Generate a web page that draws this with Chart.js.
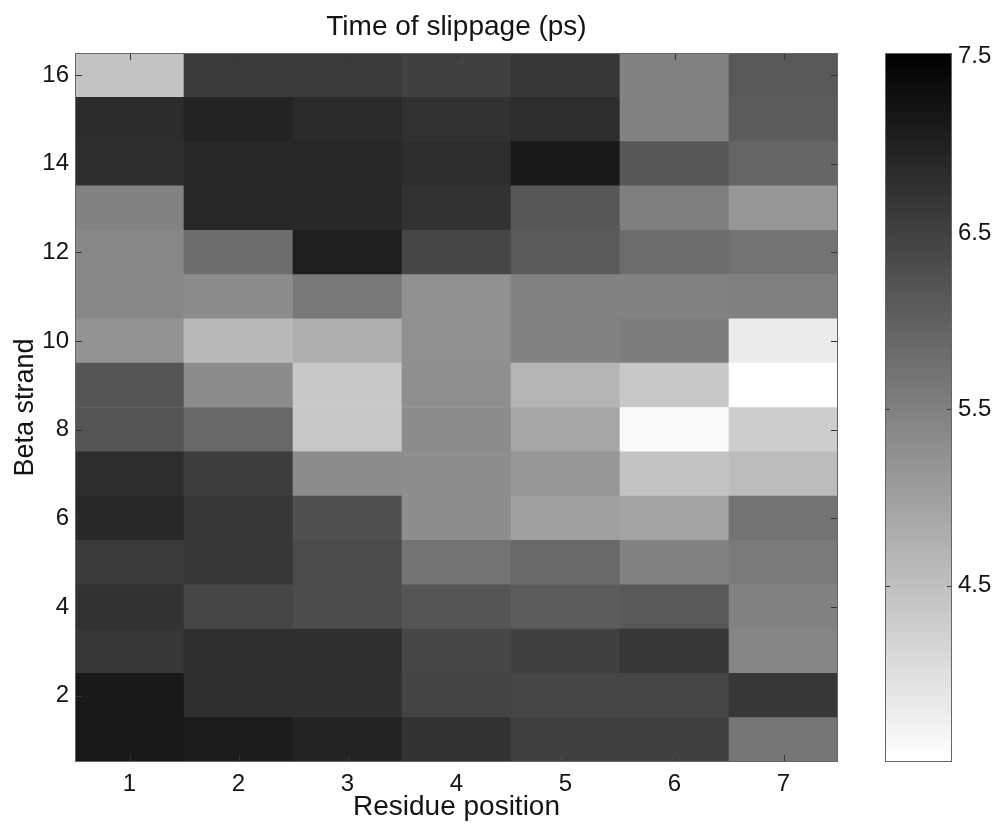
<!DOCTYPE html>
<html>
<head>
<meta charset="utf-8">
<script src="https://cdn.jsdelivr.net/npm/chart.js@4.4.1/dist/chart.umd.min.js"></script>
<style>
  html, body { margin: 0; padding: 0; background: #fff; }
  #wrap { position: relative; width: 997px; height: 829px; overflow: hidden; }
  #main { position: absolute; left: 0; top: 0; }
  #cbar { position: absolute; left: 860px; top: 0; }
</style>
</head>
<body>
<div id="wrap">
  <canvas id="main" width="860" height="829"></canvas>
  <canvas id="cbar" width="137" height="829"></canvas>
</div>
<script>
// ---- data (values in ps), each array runs strand 1 -> 16 ----
const residuePositions = ['1', '2', '3', '4', '5', '6', '7'];
const strands = [1, 2, 3, 4, 5, 6, 7, 8, 9, 10, 11, 12, 13, 14, 15, 16];
const strandTicks = [2, 4, 6, 8, 10, 12, 14, 16];
const colorbarTicks = [4.5, 5.5, 6.5, 7.5];
const colorMin = 3.5;
const colorMax = 7.52;

const res1 = [7.13, 7.13, 6.65, 6.73, 6.61, 6.89, 6.81, 6.18, 6.18, 5.20, 5.39, 5.39, 5.47, 6.80, 6.82, 4.45];
const res2 = [7.10, 6.78, 6.78, 6.42, 6.65, 6.65, 6.57, 5.90, 5.31, 4.60, 5.31, 5.80, 6.89, 6.89, 6.97, 6.61];
const res3 = [6.97, 6.78, 6.78, 6.34, 6.34, 6.26, 5.31, 4.37, 4.37, 4.76, 5.63, 7.05, 6.89, 6.89, 6.86, 6.61];
const res4 = [6.73, 6.45, 6.42, 6.18, 5.71, 5.28, 5.28, 5.31, 5.27, 5.23, 5.23, 6.42, 6.73, 6.81, 6.73, 6.50];
const res5 = [6.50, 6.42, 6.50, 6.07, 5.86, 5.00, 5.16, 4.92, 4.68, 5.47, 5.47, 6.10, 6.15, 7.13, 6.81, 6.65];
const res6 = [6.50, 6.42, 6.65, 6.13, 5.47, 4.95, 4.45, 3.58, 4.37, 5.55, 5.47, 5.79, 5.52, 6.15, 5.47, 5.47];
const res7 = [5.66, 6.65, 5.42, 5.47, 5.60, 5.71, 4.56, 4.29, 3.50, 3.82, 5.50, 5.71, 5.16, 5.91, 6.07, 6.13];
const residues = [res1, res2, res3, res4, res5, res6, res7];

const FONT = '"Liberation Sans", Arial, Helvetica, sans-serif';
const TEXT = '#141414';

function grayFor(v) {
  let t = (colorMax - v) / (colorMax - colorMin);
  t = Math.max(0, Math.min(1, t));
  const g = Math.round(255 * t);
  return 'rgb(' + g + ',' + g + ',' + g + ')';
}

const framePlugin = {
  id: 'frameTicks',
  afterDatasetsDraw(chart) {
    const { ctx, chartArea: a, scales } = chart;
    const isMain = chart.canvas.id === 'main';
    ctx.save();
    ctx.strokeStyle = '#333';
    ctx.lineWidth = 1;
    const tl = isMain ? 7 : 5;
    ctx.beginPath();
    if (isMain) {
      residuePositions.forEach((_, i) => {
        const px = Math.round(scales.x.getPixelForTick(i)) + 0.5;
        ctx.moveTo(px, a.bottom); ctx.lineTo(px, a.bottom - tl);
        ctx.moveTo(px, a.top); ctx.lineTo(px, a.top + tl);
      });
    }
    const ticks = isMain ? strandTicks : colorbarTicks.slice(0, 3);
    ticks.forEach(v => {
      const py = Math.round(scales.y.getPixelForValue(v)) + 0.5;
      ctx.moveTo(a.left, py); ctx.lineTo(a.left + tl, py);
      ctx.moveTo(a.right, py); ctx.lineTo(a.right - tl, py);
    });
    ctx.stroke();
    ctx.strokeStyle = '#666';
    ctx.strokeRect(Math.round(a.left) + 0.5, Math.round(a.top) + 0.5,
                   Math.round(a.right - a.left) - 1, Math.round(a.bottom - a.top) - 1);
    ctx.restore();
  }
};

new Chart(document.getElementById('main'), {
  type: 'bar',
  data: {
    labels: residuePositions,
    datasets: strands.map((s, si) => ({
      label: 'Strand ' + s,
      data: residues.map(() => [s - 0.5, s + 0.5]),
      backgroundColor: residues.map(col => grayFor(col[si])),
      borderWidth: 0,
      barPercentage: 1,
      categoryPercentage: 1
    }))
  },
  options: {
    responsive: false,
    devicePixelRatio: 1,
    animation: false,
    layout: { padding: { left: 0, right: 22, top: 0, bottom: 0 } },
    plugins: {
      legend: { display: false },
      tooltip: { enabled: false },
      title: {
        display: true,
        text: 'Time of slippage (ps)',
        fullSize: false,
        color: TEXT,
        font: { family: FONT, size: 28, weight: 'normal', lineHeight: 1.2 },
        padding: { top: 10, bottom: 9.4 }
      }
    },
    scales: {
      x: {
        stacked: true,
        grid: { display: false, drawTicks: false },
        border: { display: false },
        ticks: { color: TEXT, font: { family: FONT, size: 24 }, padding: 8, maxRotation: 0 },
        title: {
          display: true, text: 'Residue position', color: TEXT,
          font: { family: FONT, size: 28, lineHeight: 1.2 },
          padding: { top: 0, bottom: 5 }
        },
        afterFit(scale) { scale.height = 67; }
      },
      y: {
        type: 'linear',
        min: 0.5,
        max: 16.5,
        grid: { display: false, drawTicks: false },
        border: { display: false },
        afterBuildTicks(scale) { scale.ticks = strandTicks.map(v => ({ value: v })); },
        ticks: { color: TEXT, font: { family: FONT, size: 24 }, padding: 6 },
        title: {
          display: true, text: 'Beta strand', color: TEXT,
          font: { family: FONT, size: 27, lineHeight: 1.2 },
          padding: { top: 9, bottom: 0 }
        },
        afterFit(scale) { scale.width = 75; }
      }
    }
  },
  plugins: [framePlugin]
});

new Chart(document.getElementById('cbar'), {
  type: 'bar',
  data: {
    labels: ['colour scale'],
    datasets: [{
      data: [[colorMin, colorMax]],
      borderWidth: 0,
      barPercentage: 1,
      categoryPercentage: 1,
      backgroundColor(c) {
        const chart = c.chart;
        const ys = chart.scales.y;
        if (!ys || !chart.chartArea) return '#888';
        const g = chart.ctx.createLinearGradient(0, ys.getPixelForValue(colorMin), 0, ys.getPixelForValue(colorMax));
        g.addColorStop(0, grayFor(colorMin));
        g.addColorStop(1, grayFor(colorMax));
        return g;
      }
    }]
  },
  options: {
    responsive: false,
    devicePixelRatio: 1,
    animation: false,
    layout: { padding: { left: 25, right: 0, top: 53, bottom: 67 } },
    plugins: { legend: { display: false }, tooltip: { enabled: false } },
    scales: {
      x: { display: false },
      y: {
        position: 'right',
        type: 'linear',
        min: colorMin,
        max: colorMax,
        grid: { display: false, drawTicks: false },
        border: { display: false },
        afterBuildTicks(scale) { scale.ticks = colorbarTicks.map(v => ({ value: v })); },
        ticks: { color: TEXT, font: { family: FONT, size: 24 }, padding: 6, callback: v => v.toFixed(1) },
        afterFit(scale) { scale.width = 45; }
      }
    }
  },
  plugins: [framePlugin]
});
</script>
</body>
</html>
